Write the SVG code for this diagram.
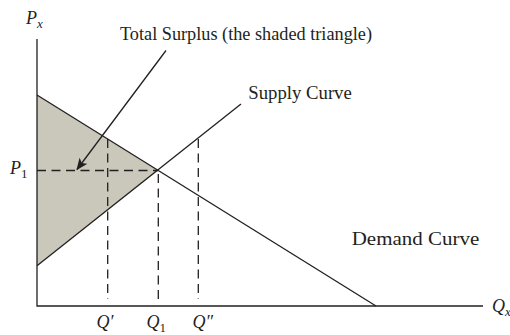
<svg xmlns="http://www.w3.org/2000/svg" width="510" height="335" viewBox="0 0 510 335">
<defs>
<style>
.ln{stroke:#231f20;stroke-width:1.3;fill:none}
.dash{stroke:#231f20;stroke-width:1.3;fill:none;stroke-dasharray:9 5.5}
text{font-family:"Liberation Serif","DejaVu Serif",serif;fill:#231f20;font-size:18px}
.it{font-style:italic}
</style>
<marker id="ah" markerWidth="12" markerHeight="10" refX="11" refY="5" orient="auto" markerUnits="userSpaceOnUse">
<path d="M0,0 L12,5 L0,10 L3,5 Z" fill="#231f20"/>
</marker>
</defs>
<rect width="510" height="335" fill="#ffffff"/>
<g id="shade"><polygon points="37,95 158.3,170.5 37,265.7" fill="#c9c8bb"/></g>
<g id="connectors">
<line class="dash" x1="37" y1="170.5" x2="158" y2="170.5"/>
<line class="dash" x1="107.7" y1="139" x2="107.7" y2="299"/>
<line class="dash" x1="158.3" y1="174" x2="158.3" y2="299"/>
<line class="dash" x1="198.3" y1="139" x2="198.3" y2="299"/>
<line id="demand" class="ln" x1="37" y1="95" x2="376" y2="306"/>
<line id="supply" class="ln" x1="37" y1="265.7" x2="241" y2="104"/>
<line class="ln" x1="166" y1="50.5" x2="77" y2="169.5" marker-end="url(#ah)"/>
<polyline id="axes" class="ln" points="37,39 37,306 483,306"/>
</g>
<g id="labels">
<text x="26" y="24" class="it">P<tspan font-size="13" dy="4">x</tspan></text>
<text x="10" y="174" class="it">P<tspan font-size="13" dy="4" font-style="normal">1</tspan></text>
<text x="96.5" y="328" class="it">Q′</text>
<text x="146.5" y="328" class="it">Q<tspan font-size="13" dy="4" font-style="normal">1</tspan></text>
<text x="192.5" y="328" class="it">Q″</text>
<text x="492" y="312" class="it">Q<tspan font-size="13" dy="4">x</tspan></text>
<text x="120" y="40" textLength="252" lengthAdjust="spacingAndGlyphs">Total Surplus (the shaded triangle)</text>
<text x="248.3" y="98.5" textLength="103.5" lengthAdjust="spacingAndGlyphs">Supply Curve</text>
<text x="351.7" y="245" font-size="19" textLength="127.5" lengthAdjust="spacingAndGlyphs">Demand Curve</text>
</g>
</svg>
